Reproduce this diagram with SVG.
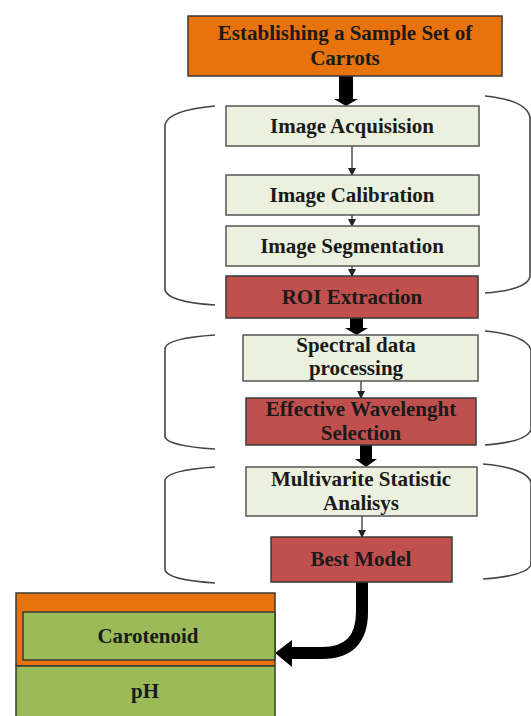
<svg xmlns="http://www.w3.org/2000/svg" width="531" height="716" viewBox="0 0 531 716">
<style>
text{font-family:"Liberation Serif","Times New Roman",serif;font-weight:bold;font-size:21px;fill:#1a1a1a;text-anchor:middle}
.lg{fill:#ebf1de;stroke:#555;stroke-width:1.5}
.rd{fill:#c0504d;stroke:#3a3a3a;stroke-width:1.5}
.or{fill:#e8720c;stroke:#3a3a3a;stroke-width:1.5}
.gr{fill:#9bbb59;stroke:#3a3a3a;stroke-width:1.5}
.br{fill:none;stroke:#444;stroke-width:1.6}
.thin{stroke:#222;stroke-width:1.2;fill:none}
</style>
<defs>
<marker id="ah" markerWidth="8" markerHeight="8" refX="7" refY="4" orient="auto" markerUnits="userSpaceOnUse">
<path d="M0,0 L8,4 L0,8 Z" fill="#222"/>
</marker>
</defs>
<rect width="531" height="716" fill="#fff"/>
<g id="brackets">
<path class="br" d="M215,106 Q168,110 165,125 L165,290 Q168,302 215,305"/>
<path class="br" d="M485,96 Q526,100 530,117 L530,277 Q526,290 485,293"/>
<path class="br" d="M215,335 Q168,338 165,348 L165,437 Q168,446 215,449"/>
<path class="br" d="M485,331 Q526,335 531,350 L531,430 Q526,442 485,445"/>
<path class="br" d="M215,467 Q168,470 165,480 L165,570 Q168,580 215,583"/>
<path class="br" d="M483,464 Q526,468 531,482 L531,565 Q526,576 483,579"/>
</g>
<g id="connectors">
<path d="M339,76 L353,76 L353,99 L358,99 L346,106 L334,99 L339,99 Z" fill="#000"/>
<line class="thin" x1="352" y1="146" x2="352" y2="175" marker-end="url(#ah)"/>
<line class="thin" x1="352" y1="215" x2="352" y2="226" marker-end="url(#ah)"/>
<line class="thin" x1="352" y1="266" x2="352" y2="276" marker-end="url(#ah)"/>
<path d="M350,318 L363,318 L363,328 L368,328 L356.5,335 L345,328 L350,328 Z" fill="#000"/>
<line class="thin" x1="361" y1="381" x2="361" y2="398" marker-end="url(#ah)"/>
<path d="M360,445 L372,445 L372,459 L377,459 L366,467 L355,459 L360,459 Z" fill="#000"/>
<line class="thin" x1="362" y1="516" x2="362" y2="537" marker-end="url(#ah)"/>
<path d="M362,582 L362,612 Q362,653 322,653 L290,653" fill="none" stroke="#000" stroke-width="12"/>
<path d="M292,640 L275,653 L292,667 Z" fill="#000"/>
</g>
<g id="n-sample">
<rect class="or" x="188" y="16" width="314" height="60"/>
<text x="345" y="40">Establishing a Sample Set of</text>
<text x="345" y="65">Carrots</text>
</g>
<g id="n-acq">
<rect class="lg" x="226" y="106" width="253" height="40"/>
<text x="352" y="133">Image Acquisision</text>
</g>
<g id="n-cal">
<rect class="lg" x="226" y="175" width="253" height="40"/>
<text x="352" y="202">Image Calibration</text>
</g>
<g id="n-seg">
<rect class="lg" x="226" y="226" width="253" height="40"/>
<text x="352" y="253">Image Segmentation</text>
</g>
<g id="n-roi">
<rect class="rd" x="226" y="276" width="252" height="42"/>
<text x="352" y="304">ROI Extraction</text>
</g>
<g id="n-spec">
<rect class="lg" x="243" y="335" width="235" height="46"/>
<text x="356" y="352">Spectral data</text>
<text x="356" y="375">processing</text>
</g>
<g id="n-eff">
<rect class="rd" x="246" y="398" width="230" height="47"/>
<text x="361" y="416">Effective Wavelenght</text>
<text x="361" y="440">Selection</text>
</g>
<g id="n-multi">
<rect class="lg" x="246" y="467" width="231" height="49"/>
<text x="361" y="486">Multivarite Statistic</text>
<text x="361" y="510">Analisys</text>
</g>
<g id="n-best">
<rect class="rd" x="271" y="537" width="181" height="45"/>
<text x="361" y="566">Best Model</text>
</g>
<g id="n-out">
<rect class="or" x="16" y="593" width="259" height="73"/>
<rect class="gr" x="23" y="612" width="252" height="48"/>
<text x="148" y="643">Carotenoid</text>
<rect class="gr" x="16" y="666" width="259" height="52"/>
<text x="145" y="698">pH</text>
</g>
</svg>
